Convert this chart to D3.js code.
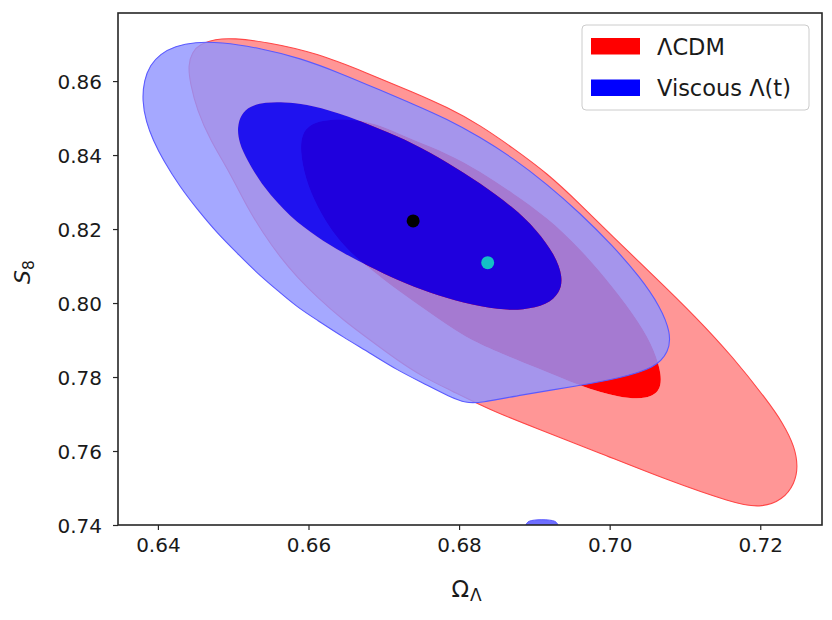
<!DOCTYPE html>
<html>
<head>
<meta charset="utf-8">
<script src="https://cdn.jsdelivr.net/npm/d3@7"></script>
<style>
  html, body { margin: 0; padding: 0; background: #fff; }
  svg { display: block; }
  text { font-family: "DejaVu Sans", sans-serif; fill: #1a1a1a; }
</style>
</head>
<body>
<div id="chart"></div>
<script>
// ---------------- data ----------------
const xTicks = [0.64, 0.66, 0.68, 0.70, 0.72];
const yTicks = [0.74, 0.76, 0.78, 0.80, 0.82, 0.84, 0.86];
const xDomain = [0.6347, 0.7282];
const yDomain = [0.74, 0.8784];

// LambdaCDM 2-sigma contour (Omega_Lambda, S8)
const redOuter = [
  [0.64401,0.86432],[0.64454,0.86784],[0.64560,0.87000],[0.64759,0.87135],[0.64998,0.87162],
  [0.65450,0.87054],[0.66114,0.86757],[0.66778,0.86216],[0.67388,0.85703],[0.67840,0.85297],
  [0.68278,0.84811],[0.68716,0.84189],[0.69167,0.83514],[0.69606,0.82676],[0.70044,0.81784],
  [0.70562,0.80784],[0.71146,0.79622],[0.71637,0.78541],[0.72088,0.77378],[0.72301,0.76757],
  [0.72460,0.76108],[0.72500,0.75568],[0.72460,0.75135],[0.72301,0.74676],[0.71995,0.74459],
  [0.71637,0.74595],[0.70761,0.75216],[0.69871,0.75946],[0.68982,0.76649],[0.68411,0.77108],
  [0.67880,0.77649],[0.67521,0.78000],[0.67176,0.78459],[0.66817,0.79000],[0.66459,0.79541],
  [0.66114,0.80162],[0.65848,0.80703],[0.65622,0.81243],[0.65397,0.81892],[0.65184,0.82595],
  [0.64959,0.83514],[0.64693,0.84405],[0.64520,0.85216],[0.64428,0.85946]
];
// LambdaCDM 1-sigma contour
const redInner = [
  [0.65888,0.84135],[0.65915,0.84568],[0.66008,0.84811],[0.66193,0.84946],[0.66485,0.84973],
  [0.66751,0.84919],[0.67017,0.84757],[0.67388,0.84405],[0.67840,0.84054],[0.68278,0.83568],
  [0.68716,0.82973],[0.69167,0.82324],[0.69606,0.81486],[0.70044,0.80432],[0.70402,0.79459],
  [0.70601,0.78703],[0.70694,0.78027],[0.70668,0.77622],[0.70508,0.77405],[0.70137,0.77432],
  [0.69606,0.77757],[0.69074,0.78216],[0.68411,0.78757],[0.68052,0.79108],[0.67614,0.79730],
  [0.67176,0.80351],[0.66751,0.81027],[0.66525,0.81432],[0.66326,0.81892],[0.66114,0.82595],
  [0.65954,0.83378]
];
// Viscous Lambda(t) 2-sigma contour
const blueOuter = [
  [0.63790,0.85486],[0.63817,0.86027],[0.63896,0.86432],[0.64029,0.86730],[0.64228,0.86946],
  [0.64494,0.87054],[0.64826,0.87054],[0.65357,0.86892],[0.65888,0.86622],[0.66419,0.86216],
  [0.66950,0.85757],[0.67388,0.85378],[0.67840,0.84973],[0.68278,0.84486],[0.68716,0.83919],
  [0.69167,0.83216],[0.69606,0.82432],[0.70044,0.81541],[0.70402,0.80703],[0.70668,0.79919],
  [0.70814,0.79189],[0.70787,0.78676],[0.70601,0.78243],[0.70137,0.77973],[0.69566,0.77757],
  [0.68809,0.77514],[0.68278,0.77297],[0.68092,0.77297],[0.67880,0.77459],[0.67521,0.77838],
  [0.67176,0.78189],[0.66817,0.78649],[0.66459,0.79081],[0.66114,0.79541],[0.65848,0.79892],
  [0.65583,0.80351],[0.65317,0.80811],[0.65052,0.81351],[0.64786,0.81892],[0.64520,0.82541],
  [0.64295,0.83135],[0.64069,0.83865],[0.63936,0.84405],[0.63843,0.84892]
];
// Viscous Lambda(t) 1-sigma contour
const blueInner = [
  [0.65052,0.84757],[0.65105,0.85108],[0.65224,0.85324],[0.65423,0.85432],[0.65689,0.85432],
  [0.65954,0.85378],[0.66379,0.85162],[0.66950,0.84703],[0.67388,0.84324],[0.67840,0.83811],
  [0.68278,0.83243],[0.68716,0.82595],[0.69035,0.81973],[0.69274,0.81297],[0.69380,0.80703],
  [0.69340,0.80270],[0.69167,0.79946],[0.68849,0.79811],[0.68543,0.79811],[0.68052,0.80000],
  [0.67614,0.80270],[0.67176,0.80622],[0.66817,0.80973],[0.66459,0.81351],[0.66114,0.81784],
  [0.65755,0.82324],[0.65397,0.83135],[0.65184,0.83865],[0.65078,0.84324]
];
// small stray 2-sigma island of the Viscous chain at the bottom edge
const blueFragment = [
  [0.68890,0.73990],[0.68930,0.74100],[0.69270,0.74100],[0.69310,0.73990]
];
// best-fit points
const bestFitLCDM = [0.6739, 0.8222];
const bestFitViscous = [0.6838, 0.8109];
const legendLabels = ["\u039BCDM", "Viscous \u039B(t)"];
const legendColors = ["#ff0000", "#0000ff"];

// ---------------- drawing ----------------
const W = 832, H = 620;
const margin = {left: 118, right: 10, top: 13, bottom: 95};
const svg = d3.select("#chart").append("svg").attr("width", W).attr("height", H);

const x = d3.scaleLinear().domain(xDomain).range([margin.left, W - margin.right]);
const y = d3.scaleLinear().domain(yDomain).range([H - margin.bottom, margin.top]);

svg.append("defs").append("clipPath").attr("id", "plotclip")
  .append("rect")
  .attr("x", margin.left).attr("y", margin.top)
  .attr("width", W - margin.left - margin.right)
  .attr("height", H - margin.top - margin.bottom);

const line = d3.line().x(d => x(d[0])).y(d => y(d[1])).curve(d3.curveBasisClosed);
const lineSharp = d3.line().x(d => x(d[0])).y(d => y(d[1])).curve(d3.curveCatmullRomClosed);
const plot = svg.append("g").attr("clip-path", "url(#plotclip)");

// LambdaCDM (drawn first)
plot.append("path").attr("d", line(redOuter) + line(redInner))
  .attr("fill", "rgb(255,150,150)").attr("fill-rule", "evenodd");
plot.append("path").attr("d", line(redInner)).attr("fill", "rgb(255,0,0)");
plot.append("path").attr("d", line(redOuter))
  .attr("fill", "none").attr("stroke", "rgb(255,70,70)").attr("stroke-width", 1.1);

// Viscous Lambda(t) on top, semi-transparent
plot.append("path").attr("d", line(blueOuter) + line(blueInner))
  .attr("fill", "rgb(145,149,255)").attr("fill-opacity", 0.82).attr("fill-rule", "evenodd");
plot.append("path").attr("d", line(blueInner))
  .attr("fill", "rgb(0,0,252)").attr("fill-opacity", 0.88);
plot.append("path").attr("d", line(blueOuter))
  .attr("fill", "none").attr("stroke", "rgb(90,90,255)").attr("stroke-width", 1.1);
plot.append("path").attr("d", lineSharp(blueFragment))
  .attr("fill", "rgb(110,110,255)").attr("stroke", "rgb(90,90,255)").attr("stroke-width", 1);

// best-fit points
plot.append("circle").attr("cx", x(bestFitLCDM[0])).attr("cy", y(bestFitLCDM[1]))
  .attr("r", 6.5).attr("fill", "#000");
plot.append("circle").attr("cx", x(bestFitViscous[0])).attr("cy", y(bestFitViscous[1]))
  .attr("r", 6.5).attr("fill", "#14bfc6");

// axes
const fmt = d3.format(".2f");
const xAxis = svg.append("g").attr("transform", `translate(0,${H - margin.bottom})`)
  .call(d3.axisBottom(x).tickValues(xTicks).tickFormat(fmt).tickSize(5).tickSizeOuter(0));
const yAxis = svg.append("g").attr("transform", `translate(${margin.left},0)`)
  .call(d3.axisLeft(y).tickValues(yTicks).tickFormat(fmt).tickSize(5).tickSizeOuter(0));
[xAxis, yAxis].forEach(a => {
  a.select(".domain").remove();
  a.selectAll(".tick line").attr("stroke", "#262626").attr("stroke-width", 1.2);
  a.selectAll(".tick text").attr("font-size", 20).attr("fill", "#1a1a1a")
    .style("font-family", "'DejaVu Sans', sans-serif");
});
xAxis.selectAll(".tick text").attr("y", 13).attr("dy", "0.71em");
yAxis.selectAll(".tick text").attr("x", -16).attr("dy", "0.36em");

// frame
svg.append("rect")
  .attr("x", margin.left).attr("y", margin.top)
  .attr("width", W - margin.left - margin.right)
  .attr("height", H - margin.top - margin.bottom)
  .attr("fill", "none").attr("stroke", "#262626").attr("stroke-width", 1.6);

// axis labels
const xl = svg.append("text").attr("x", 451.5).attr("y", 596.7).attr("font-size", 23);
xl.append("tspan").text("\u03A9");
xl.append("tspan").attr("font-size", 17).attr("dy", 4.5).attr("dx", 1).text("\u039B");

const yl = svg.append("text").attr("transform", "translate(29.5,272) rotate(-90)")
  .attr("text-anchor", "middle").attr("font-size", 22);
yl.append("tspan").attr("font-style", "italic").text("S");
yl.append("tspan").attr("font-size", 15.5).attr("dy", 4.5).text("8");

// legend
const lg = svg.append("g");
lg.append("rect").attr("x", 582).attr("y", 25).attr("width", 227).attr("height", 85)
  .attr("rx", 4).attr("fill", "#fff").attr("fill-opacity", 0.85)
  .attr("stroke", "#cccccc").attr("stroke-width", 1);
legendLabels.forEach((lab, i) => {
  lg.append("rect").attr("x", 591).attr("y", 38 + i * 41.5).attr("width", 49).attr("height", 16.5)
    .attr("fill", legendColors[i]);
  lg.append("text").attr("x", 657).attr("y", 54.5 + i * 41.5).attr("font-size", 22.5).text(lab);
});
</script>
</body>
</html>
